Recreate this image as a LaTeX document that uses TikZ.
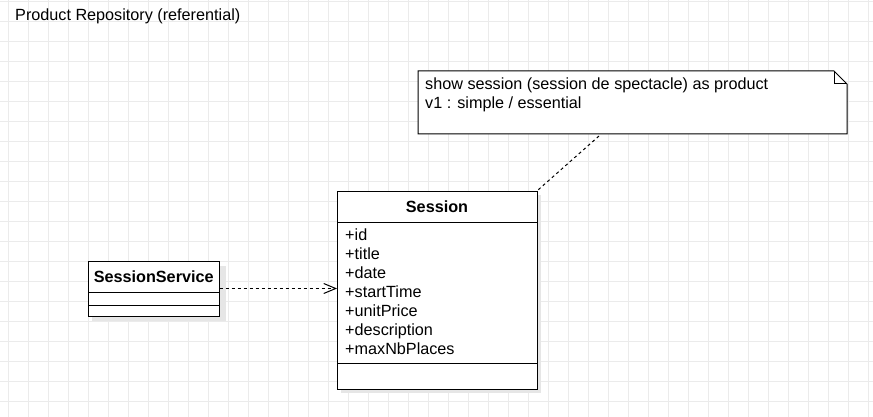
\documentclass[tikz,border=0pt]{standalone}
\usepackage{fontspec}
\setmainfont{Liberation Sans}
\usetikzlibrary{arrows.meta}
\definecolor{gridc}{HTML}{EBEBEB}
\definecolor{shadowc}{HTML}{E6E6E6}
\begin{document}
\begin{tikzpicture}[x=1pt,y=-1pt,
  txt/.style={inner sep=0pt,anchor=base west,font=\fontsize{16.2}{19}\selectfont},
  boldtxt/.style={inner sep=0pt,anchor=base,font=\fontsize{16.2}{19}\selectfont\bfseries},
  umlbox/.style={draw=black,line width=1pt,fill=white},
  shadowbox/.style={fill=shadowc,draw=none},
  sep/.style={draw=black,line width=1pt},
  dep/.style={draw=black,line width=1pt,dash pattern=on 3pt off 3pt,-{Straight Barb[length=12pt,width=10pt,line width=1pt]}},
  notelink/.style={draw=black,line width=1pt,dash pattern=on 3pt off 3pt}]
\useasboundingbox (0,0) rectangle (873,417);
\fill[white] (0,0) rectangle (873,417);
% grid
\foreach \gx in {8.3,28.3,...,873} {\draw[gridc,line width=1pt] (\gx,0) -- (\gx,417);}
\foreach \gy in {1.7,21.7,...,417} {\draw[gridc,line width=1pt] (0,\gy) -- (873,\gy);}
% title
\node[txt] (title) at (15,20.5) {Product Repository (referential)};
% note
\draw[umlbox] (418,71) -- (834,71) -- (847,84) -- (847,134) -- (418,134) -- cycle;
\draw[sep] (834,71) -- (834,84) -- (847,84);
\node[txt] (note1) at (425,90) {show session (session de spectacle) as product};
\node[txt] (note2) at (425,109) {v1 : simple / essential};
\coordinate (noteanchor) at (599,136);
% Session class
\fill[shadowc] (341,195) rectangle (541,393);
\draw[umlbox] (337,191) rectangle (537,389);
\coordinate (sessTR) at (538,190);
\coordinate (sessL) at (337,288.5);
\draw[sep] (337,222.5) -- (537,222.5);
\draw[sep] (337,363.5) -- (537,363.5);
\node[boldtxt] (sessTitle) at (437,212) {Session};
\node[txt] (a1) at (345,240) {+id};
\node[txt] (a2) at (345,259) {+title};
\node[txt] (a3) at (345,278) {+date};
\node[txt] (a4) at (345,297) {+startTime};
\node[txt] (a5) at (345,316) {+unitPrice};
\node[txt] (a6) at (345,335) {+description};
\node[txt] (a7) at (345,354) {+maxNbPlaces};
% SessionService class
\fill[shadowc] (92,266) rectangle (226,321);
\draw[umlbox] (88,261) rectangle (219.5,316);
\draw[sep] (88,292.5) -- (219.5,292.5);
\draw[sep] (88,305) -- (219.5,305);
\node[boldtxt] (svcTitle) at (153.7,282) {SessionService};
\coordinate (svcR) at (219.5,288.5);
% connectors
\draw[dep] (svcR) -- (sessL);
\draw[notelink] (noteanchor) -- (sessTR);
\end{tikzpicture}
\end{document}
